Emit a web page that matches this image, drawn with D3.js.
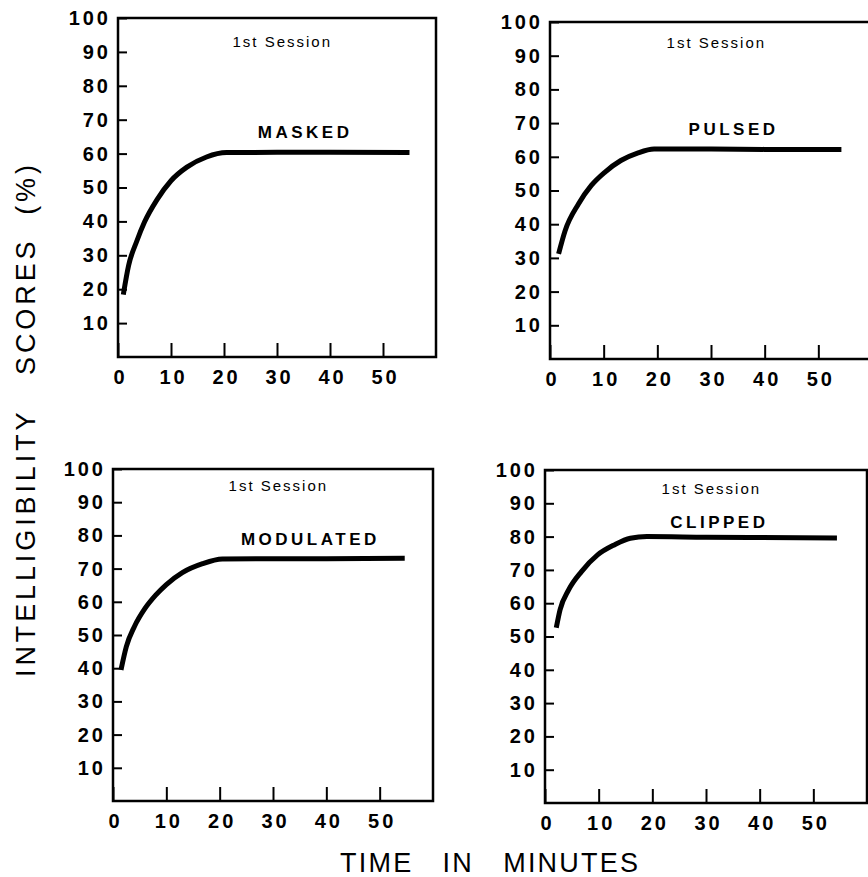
<!DOCTYPE html>
<html>
<head>
<meta charset="utf-8">
<script src="https://cdn.jsdelivr.net/npm/d3@7"></script>
<style>
  body { margin: 0; background: #fff; }
  text { font-family: "Liberation Sans", Arial, sans-serif; fill: #000; }
</style>
</head>
<body>
<div id="chart"></div>
<script>
// Intelligibility scores vs time, four conditions, 1st session

// values
var timeMasked = [1, 2, 3.5, 5, 7.4, 10, 13, 16.7, 20.5, 30, 40, 55];
var scoreMasked = [18.4, 27, 34, 39.8, 46.5, 52, 56, 59, 60.3, 60.4, 60.4, 60.3];

var timePulsed = [1.6, 2.8, 5.3, 7.7, 10.2, 13.2, 16.3, 19.4, 30, 40, 54.3];
var scorePulsed = [31.2, 38, 46, 51.5, 55.4, 58.9, 61.1, 62.3, 62.3, 62.2, 62.2];

var timeModulated = [1.5, 2.5, 4, 6, 8, 10, 13, 16.8, 20.5, 30, 40, 54.7];
var scoreModulated = [39.5, 46.5, 52.5, 58, 62, 65.2, 68.8, 71.5, 72.9, 73, 73, 73.1];

var timeClipped = [2.1, 2.8, 4.4, 6.8, 9.8, 12.9, 15.9, 19, 30, 40, 54.4];
var scoreClipped = [52.6, 58, 64, 69.5, 74.5, 77.5, 79.5, 80, 79.8, 79.7, 79.6];

var conditions = ['MASKED', 'PULSED', 'MODULATED', 'CLIPPED'];
var sessionLabel = '1st Session';
var xTicks = [0, 10, 20, 30, 40, 50];
var yTicks = [10, 20, 30, 40, 50, 60, 70, 80, 90, 100];
var xLabel = 'TIME   IN   MINUTES';
var yLabel = 'INTELLIGIBILITY   SCORES  (%)';

var width = 868;
var height = 877;

// where each panel sits on the page, and where its labels go (in data units)
var boxes = [
  {left: 118, top: 18, width: 318, height: 339, name: [35.3, 64.5], session: [31, 91.3]},
  {left: 550, top: 22, width: 322, height: 337, name: [34.2, 66.5], session: [31, 92.3]},
  {left: 113, top: 469, width: 320, height: 332, name: [37, 77], session: [31, 93.3]},
  {left: 545, top: 470, width: 322, height: 333, name: [32.5, 82.5], session: [31, 92.8]}
];

var series = [
  {t: timeMasked, s: scoreMasked},
  {t: timePulsed, s: scorePulsed},
  {t: timeModulated, s: scoreModulated},
  {t: timeClipped, s: scoreClipped}
];

var svg = d3.select('#chart').append('svg')
      .attr('width', width)
      .attr('height', height);

boxes.forEach(function(b, i) {
  var g = svg.append('g')
        .attr('transform', 'translate(' + b.left + ',' + b.top + ')');

  var xScale = d3.scaleLinear().domain([0, 60]).range([0, b.width]);
  var yScale = d3.scaleLinear().domain([0, 100]).range([b.height, 0]);

  // ticks point into the frame
  var xAxis = d3.axisBottom(xScale)
        .tickValues(xTicks)
        .tickSize(-14)
        .tickPadding(13)
        .tickFormat(d3.format('d'));
  var yAxis = d3.axisLeft(yScale)
        .tickValues(yTicks)
        .tickSize(-9)
        .tickPadding(10)
        .tickFormat(d3.format('d'));

  var gx = g.append('g')
        .attr('transform', 'translate(0,' + b.height + ')')
        .call(xAxis);
  var gy = g.append('g').call(yAxis);

  [gx, gy].forEach(function(a) {
    a.select('.domain').remove();
    a.selectAll('line').attr('stroke', '#000').attr('stroke-width', 2);
    a.selectAll('text')
      .style('font-family', '"Liberation Sans", Arial, sans-serif')
      .style('font-size', '20px')
      .style('font-weight', 'bold')
      .style('letter-spacing', '3px')
      .attr('fill', '#000');
  });
  gx.selectAll('text').attr('dy', '0.71em').attr('dx', '2px');
  gy.selectAll('text').attr('dx', '3px');

  // frame
  g.append('rect')
    .attr('width', b.width)
    .attr('height', b.height)
    .attr('fill', 'none')
    .attr('stroke', '#000')
    .attr('stroke-width', 2.5);

  var line = d3.line()
        .x(function(d) { return xScale(d[0]); })
        .y(function(d) { return yScale(d[1]); })
        .curve(d3.curveMonotoneX);

  var pts = d3.zip(series[i].t, series[i].s);
  g.append('path')
    .attr('d', line(pts))
    .attr('fill', 'none')
    .attr('stroke', '#000')
    .attr('stroke-width', 5);

  g.append('text')
    .attr('x', xScale(b.session[0]))
    .attr('y', yScale(b.session[1]))
    .attr('text-anchor', 'middle')
    .style('font-size', '15px')
    .style('letter-spacing', '2px')
    .text(sessionLabel);

  g.append('text')
    .attr('x', xScale(b.name[0]))
    .attr('y', yScale(b.name[1]))
    .attr('text-anchor', 'middle')
    .style('font-size', '17px')
    .style('font-weight', 'bold')
    .style('letter-spacing', '3.5px')
    .text(conditions[i]);
});

// shared axis titles
svg.append('text')
  .attr('x', 489)
  .attr('y', 872)
  .attr('text-anchor', 'middle')
  .attr('textLength', 298)
  .attr('lengthAdjust', 'spacing')
  .style('font-size', '27px')
  .style('white-space', 'pre')
  .text(xLabel);

svg.append('text')
  .attr('transform', 'translate(35,421) rotate(-90)')
  .attr('text-anchor', 'middle')
  .attr('textLength', 512)
  .attr('lengthAdjust', 'spacing')
  .style('font-size', '27px')
  .style('white-space', 'pre')
  .text(yLabel);
</script>
</body>
</html>
